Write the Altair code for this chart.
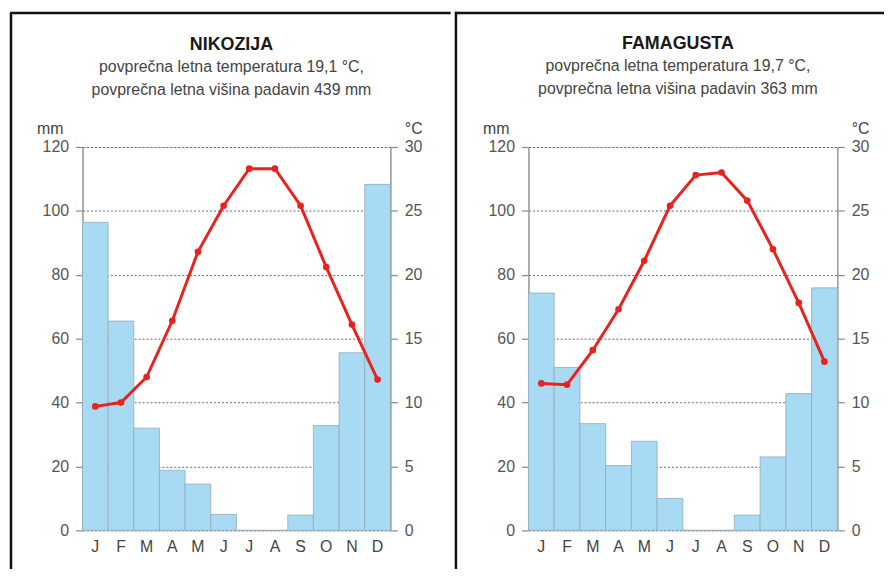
import json
import altair as alt
import pandas as pd

months = ["J", "F", "M", "A", "M", "J", "J", "A", "S", "O", "N", "D"]

nik_title = "NIKOZIJA"
nik_sub = ["povprečna letna temperatura 19,1 °C,", "povprečna letna višina padavin 439 mm"]
nik_precip = [96.4, 65.5, 32, 18.8, 14.5, 5, 0, 0, 4.8, 32.8, 55.6, 108.3]
nik_temp = [9.7, 10.0, 12.0, 16.4, 21.8, 25.4, 28.3, 28.3, 25.4, 20.6, 16.1, 11.8]

fam_title = "FAMAGUSTA"
fam_sub = ["povprečna letna temperatura 19,7 °C,", "povprečna letna višina padavin 363 mm"]
fam_precip = [74.3, 51, 33.4, 20.3, 27.9, 10, 0, 0, 4.8, 23, 42.8, 75.9]
fam_temp = [11.5, 11.4, 14.1, 17.3, 21.1, 25.4, 27.8, 28.0, 25.8, 22.0, 17.8, 13.2]

mm_ticks = [0, 20, 40, 60, 80, 100, 120]
c_ticks = [0, 5, 10, 15, 20, 25, 30]

FONT = "Liberation Sans"
RED = "#e8231f"
BLUE = "#a8daf3"
month_expr = json.dumps(months) + "[datum.value]"

one = pd.DataFrame({"a": [0]})


def frame_rule(x, x2=None, y=None, y2=None):
    enc = {"x": alt.value(x), "y": alt.value(y)}
    if x2 is not None:
        enc["x2"] = alt.value(x2)
    if y2 is not None:
        enc["y2"] = alt.value(y2)
    return alt.Chart(one).mark_rule(color="#111111", strokeWidth=2.5).encode(**enc)


def panel(title, sub, precip, temp, width, frames):
    df = pd.DataFrame({"idx": list(range(12)), "precip": precip, "temp": temp})
    xenc = alt.X(
        "idx:O",
        scale=alt.Scale(paddingInner=0, paddingOuter=0),
        axis=alt.Axis(
            labelExpr=month_expr, ticks=False, domain=False, labelAngle=0,
            labelFontSize=16, labelColor="#444444", labelPadding=8, title=None,
            labelFont=FONT,
        ),
    )
    bars = alt.Chart(df).mark_bar(color=BLUE, stroke="#93abb9", strokeWidth=0.8).encode(
        x=xenc,
        y=alt.Y(
            "precip:Q",
            scale=alt.Scale(domain=[0, 120], nice=False),
            axis=alt.Axis(
                values=mm_ticks, title="mm", titleAngle=0, titleX=-33, titleY=-19,
                titleAlign="center", titleBaseline="middle", titleFontSize=16,
                titleFontWeight="normal", titleColor="#444444", titleFont=FONT,
                grid=True, gridDash=[2, 2], gridColor="#666666", gridWidth=1,
                tickSize=7, tickColor="#888888", tickWidth=1.2,
                domainColor="#999999", domainWidth=1.5,
                labelFontSize=16, labelColor="#555555", labelPadding=7, labelFont=FONT,
            ),
        ),
    )
    line = alt.Chart(df).mark_line(
        color=RED, strokeWidth=3,
        point=alt.OverlayMarkDef(filled=True, color=RED, size=45),
    ).encode(
        x=xenc,
        y=alt.Y(
            "temp:Q",
            scale=alt.Scale(domain=[0, 30], nice=False),
            axis=alt.Axis(
                orient="right", values=c_ticks, title="°C", titleAngle=0,
                titleX=23, titleY=-19, titleAlign="center", titleBaseline="middle",
                titleFontSize=16, titleFontWeight="normal", titleColor="#444444",
                titleFont=FONT, grid=False, tickSize=7, tickColor="#888888",
                tickWidth=1.2, domainColor="#999999", domainWidth=1.5,
                labelFontSize=16, labelColor="#555555", labelPadding=7, labelFont=FONT,
            ),
        ),
    )
    return alt.layer(bars, line, *frames).resolve_scale(y="independent").properties(
        width=width,
        height=386,
        title=alt.TitleParams(
            text=title, subtitle=sub, fontSize=18, fontWeight="bold", font=FONT,
            color="#1a1a1a", subtitleFont=FONT, subtitleFontSize=16,
            subtitleColor="#444444", subtitleLineHeight=23, subtitlePadding=5,
            anchor="middle", frame="group", dx=-5, offset=-87,
        ),
    )


BOTTOM = 425  # frame lines end below plot bottom (relative to plot top)

left = panel(
    nik_title, nik_sub, nik_precip, nik_temp, 310,
    [frame_rule(-72, y=-135, y2=BOTTOM), frame_rule(-73, x2=370.75, y=-135)],
)
right = panel(
    fam_title, fam_sub, fam_precip, fam_temp, 311,
    [frame_rule(-73, y=-136.25, y2=BOTTOM), frame_rule(-74, x2=358, y=-135)],
)

chart = alt.hconcat(left, right, spacing=0).properties(
    padding={"left": 0, "top": 0, "right": 0, "bottom": 0}
).configure_view(stroke="#999999", strokeWidth=1.5).configure(background="white")

chart.save("out.html", embed_options={"renderer": "svg", "actions": False})
